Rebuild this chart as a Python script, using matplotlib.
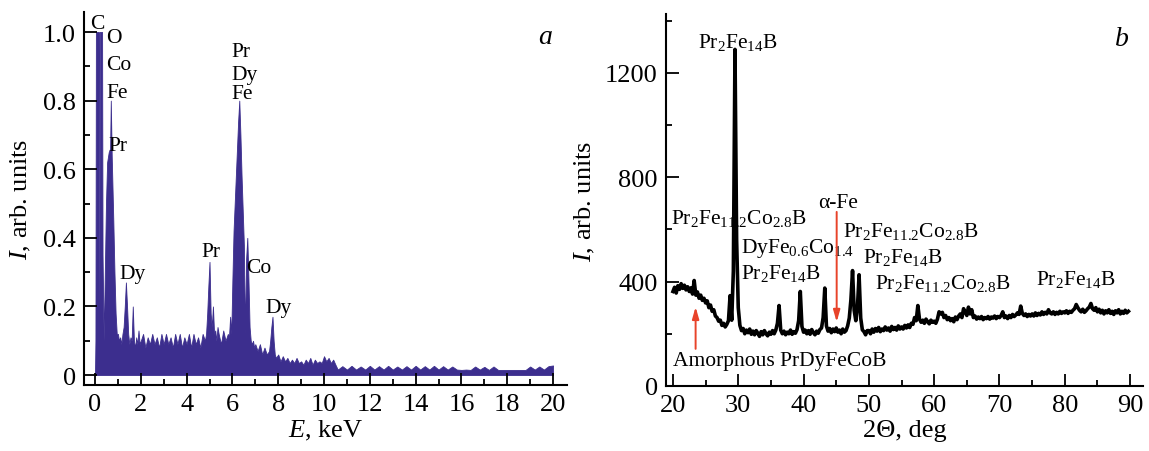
import numpy as np
import matplotlib
matplotlib.use("Agg")
import matplotlib.pyplot as plt
from matplotlib.ticker import MultipleLocator, FixedLocator, FuncFormatter

plt.rcParams['font.family'] = ['Liberation Serif', 'DejaVu Serif']
plt.rcParams['mathtext.fontset'] = 'custom'
plt.rcParams['mathtext.rm'] = 'Liberation Serif'
plt.rcParams['mathtext.it'] = 'Liberation Serif:italic'
plt.rcParams['mathtext.default'] = 'regular'

# --- panel a: EDS spectrum (energy keV, intensity arb. units) ---
eds_e = [0.00, 0.02, 0.04, 0.17, 0.19, 0.21, 0.31, 0.33, 0.38, 0.43,
         0.48, 0.53, 0.60, 0.66, 0.69, 0.73, 0.80, 0.85, 0.90, 0.95,
         1.00, 1.05, 1.10, 1.15, 1.20, 1.25, 1.30, 1.35, 1.40, 1.45,
         1.50, 1.55, 1.60, 1.65, 1.70, 1.75, 1.80, 1.85, 1.90, 1.95, 2.00,
         2.1, 2.2, 2.3, 2.4, 2.5, 2.6, 2.7, 2.8, 2.9, 3.0,
         3.1, 3.2, 3.3, 3.4, 3.5, 3.6, 3.7, 3.8, 3.9, 4.0,
         4.1, 4.2, 4.3, 4.4, 4.5, 4.6, 4.7, 4.8,
         4.85, 4.90, 4.95, 5.00, 5.05, 5.10, 5.15, 5.20, 5.25, 5.30, 5.35, 5.40,
         5.5, 5.6, 5.7, 5.8, 5.85, 5.90, 5.95,
         6.00, 6.05, 6.10, 6.15, 6.20, 6.25, 6.30, 6.35, 6.40, 6.45,
         6.50, 6.55, 6.60, 6.65, 6.70, 6.75, 6.80, 6.85, 6.90, 6.95, 7.00,
         7.1, 7.2, 7.3, 7.4, 7.5, 7.6, 7.65, 7.70, 7.75, 7.80, 7.85, 7.9, 8.0,
         8.1, 8.2, 8.3, 8.4, 8.5, 8.6, 8.7, 8.8, 8.9, 9.0,
         9.1, 9.2, 9.3, 9.4, 9.5, 9.6, 9.7, 9.8, 9.9, 10.0,
         10.1, 10.2, 10.3, 10.4, 10.5,
         10.6, 10.8, 11.0, 11.2, 11.4, 11.6, 11.8, 12.0, 12.2, 12.4,
         12.6, 12.8, 13.0, 13.2, 13.4, 13.6, 13.8, 14.0, 14.2, 14.4,
         14.6, 14.8, 15.0, 15.2, 15.4, 15.6, 15.8, 16.0, 16.2, 16.4,
         16.6, 16.8, 17.0, 17.2, 17.4, 17.6, 17.8, 18.0, 18.2, 18.4,
         18.6, 18.8, 19.0, 19.2, 19.4, 19.6, 19.8, 20.0]
eds_i = [0.00, 0.10, 1.00, 1.00, 0.20, 1.00, 1.00, 0.35, 0.10, 0.30,
         0.50, 0.62, 0.65, 0.66, 0.80, 0.64, 0.45, 0.30, 0.18, 0.12,
         0.12, 0.10, 0.11, 0.09, 0.12, 0.14, 0.20, 0.27, 0.20, 0.12,
         0.09, 0.11, 0.10, 0.20, 0.10, 0.08, 0.11, 0.09, 0.13, 0.09, 0.10,
         0.12, 0.08, 0.11, 0.09, 0.12, 0.09, 0.11, 0.08, 0.12, 0.09,
         0.12, 0.09, 0.11, 0.08, 0.12, 0.09, 0.12, 0.08, 0.11, 0.09,
         0.12, 0.08, 0.12, 0.09, 0.11, 0.08, 0.12, 0.10,
         0.12, 0.18, 0.26, 0.33, 0.18, 0.14, 0.20, 0.12, 0.13, 0.10, 0.14, 0.12,
         0.09, 0.13, 0.10, 0.12, 0.11, 0.17, 0.12,
         0.28, 0.42, 0.50, 0.58, 0.66, 0.74, 0.80, 0.70, 0.58, 0.48,
         0.38, 0.12, 0.34, 0.40, 0.28, 0.14, 0.10, 0.09, 0.10, 0.08, 0.09,
         0.07, 0.09, 0.06, 0.08, 0.06, 0.07, 0.10, 0.14, 0.17, 0.10, 0.06, 0.05, 0.06,
         0.04, 0.055, 0.04, 0.05, 0.035, 0.045, 0.035, 0.05, 0.035, 0.04,
         0.03, 0.045, 0.035, 0.05, 0.03, 0.045, 0.035, 0.04, 0.035, 0.055,
         0.04, 0.05, 0.035, 0.045, 0.03,
         0.016, 0.026, 0.016, 0.027, 0.016, 0.025, 0.016, 0.027, 0.016, 0.026,
         0.016, 0.027, 0.016, 0.025, 0.016, 0.026, 0.016, 0.027, 0.016, 0.026,
         0.016, 0.027, 0.016, 0.026, 0.016, 0.025, 0.016, 0.015, 0.016, 0.015,
         0.025, 0.016, 0.024, 0.015, 0.025, 0.015, 0.015, 0.015, 0.015, 0.015,
         0.015, 0.015, 0.025, 0.016, 0.025, 0.016, 0.026, 0.028]

# --- panel b: XRD pattern, 2theta from 20.00 to 89.75 step 0.25 ---
xrd_start, xrd_step = 20.0, 0.25
xrd_counts = [
    362, 378, 356, 384, 370, 392, 374, 386, 368, 380, 362, 376, 352, 404, 348, 360, 336, 348, 328, 336,
    318, 326, 300, 310, 286, 292, 268, 262, 248, 252, 232, 240, 226, 236, 250, 346, 252, 440, 1290, 560,
    300, 232, 212, 220, 200, 214, 204, 218, 198, 210, 196, 212, 202, 190, 208, 196, 212, 200, 192, 206,
    198, 212, 200, 214, 240, 308, 214, 200, 210, 196, 206, 200, 214, 198, 208, 202, 216, 250, 362, 228,
    206, 214, 200, 212, 198, 216, 204, 196, 210, 202, 216, 222, 262, 375, 230, 210, 220, 204, 218, 208,
    222, 206, 214, 200, 218, 206, 212, 230, 260, 330, 442, 290, 250, 300, 426, 260, 215, 208, 196, 212,
    212, 200, 218, 206, 220, 210, 224, 208, 218, 212, 226, 214, 222, 210, 228, 216, 224, 214, 230, 218,
    226, 218, 232, 222, 234, 224, 240, 236, 262, 250, 308, 256, 244, 252, 240, 256, 246, 238, 252, 244,
    248, 240, 256, 284, 276, 282, 262, 270, 254, 262, 250, 258, 246, 264, 254, 268, 276, 262, 296, 284,
    270, 302, 276, 292, 262, 268, 256, 264, 258, 266, 254, 262, 258, 266, 256, 264, 260, 268, 258, 266,
    262, 270, 284, 262, 268, 258, 270, 262, 274, 266, 272, 280, 274, 306, 278, 270, 276, 266, 274, 268,
    276, 268, 280, 270, 278, 272, 284, 274, 282, 276, 292, 280, 276, 284, 274, 282, 276, 286, 278, 284,
    280, 288, 278, 286, 282, 290, 296, 312, 300, 290, 284, 294, 282, 288, 296, 302, 316, 296, 290, 300,
    284, 294, 280, 290, 276, 288, 280, 292, 278, 286, 274, 288, 280, 292, 276, 286, 278, 290, 280, 286,
]
xrd_2theta = xrd_start + xrd_step * np.arange(len(xrd_counts))

fill_color = '#3c2e8e'
arrow_color = '#e8432a'
fs_tick = 19
fs_lab = 15.5

fig = plt.figure(figsize=(11.49, 4.52), dpi=100)
ax1 = fig.add_axes([0.0731, 0.146, 0.4204, 0.825])
ax2 = fig.add_axes([0.5796, 0.144, 0.4152, 0.823])

for ax in (ax1, ax2):
    for s in ('top', 'right'):
        ax.spines[s].set_visible(False)
    for s in ('left', 'bottom'):
        ax.spines[s].set_linewidth(1.5)
    ax.tick_params(which='both', direction='in', width=1.3, labelsize=fs_tick)
    ax.tick_params(which='major', length=9)
    ax.tick_params(which='minor', length=4.5)
    ax.tick_params(axis='x', which='major', pad=6)
    ax.tick_params(axis='y', which='major', pad=6)

# panel a
ax1.fill_between(eds_e, eds_i, 0, color=fill_color, lw=0.6, edgecolor=fill_color)
ax1.set_xlim(-0.48, 20.61)
ax1.set_ylim(-0.029, 1.058)
ax1.xaxis.set_major_locator(MultipleLocator(2))
ax1.xaxis.set_minor_locator(MultipleLocator(1))
ax1.yaxis.set_major_locator(FixedLocator([0, 0.2, 0.4, 0.6, 0.8, 1.0]))
ax1.yaxis.set_minor_locator(FixedLocator([0.1, 0.3, 0.5, 0.7, 0.9]))
ax1.yaxis.set_major_formatter(FuncFormatter(lambda v, p: '0' if abs(v) < 1e-9 else f'{v:.1f}'))
ax1.set_xlabel(r'$\mathit{E}$, keV', fontsize=fs_tick, labelpad=2)
ax1.set_ylabel(r'$\mathit{I}$, arb. units', fontsize=fs_tick, labelpad=7)
ax1.text(0.955, 0.935, 'a', transform=ax1.transAxes, fontsize=20, style='italic',
         ha='center', va='center')

eds_labels = [('C', -0.22, 1.013), ('O', 0.48, 0.97), ('Co', 0.48, 0.892),
              ('Fe', 0.48, 0.811), ('Pr', 0.58, 0.657), ('Dy', 1.06, 0.284),
              ('Pr', 4.66, 0.346), ('Pr', 5.94, 0.929), ('Dy', 5.94, 0.863),
              ('Fe', 5.94, 0.807), ('Co', 6.62, 0.301), ('Dy', 7.45, 0.185)]
for t, x, y in eds_labels:
    ax1.text(x, y, t, fontsize=fs_lab, ha='left', va='baseline')

# panel b
ax2.plot(xrd_2theta, xrd_counts, color='black', lw=2.6)
ax2.set_xlim(18.93, 91.98)
ax2.set_ylim(0, 1426)
ax2.xaxis.set_major_locator(MultipleLocator(10))
ax2.xaxis.set_minor_locator(MultipleLocator(5))
ax2.yaxis.set_major_locator(MultipleLocator(400))
ax2.yaxis.set_minor_locator(MultipleLocator(200))
ax2.set_xlabel('2Θ, deg', fontsize=fs_tick, labelpad=2)
ax2.set_ylabel(r'$\mathit{I}$, arb. units', fontsize=fs_tick, labelpad=6)
ax2.text(0.955, 0.935, 'b', transform=ax2.transAxes, fontsize=20, style='italic',
         ha='center', va='center')

p214 = r'Pr$_2$Fe$_{14}$B'
pco = r'Pr$_2$Fe$_{11.2}$Co$_{2.8}$B'
xrd_labels = [(p214, 23.87, 1299), (pco, 19.65, 625),
              (r'DyFe$_{0.6}$Co$_{1.4}$', 30.41, 512), (p214, 30.41, 413),
              ('α-Fe', 42.25, 685), (pco, 46.08, 574), (p214, 49.05, 474),
              (pco, 50.93, 375), (p214, 75.59, 391),
              ('Amorphous PrDyFeCoB', 20.05, 80)]
for t, x, y in xrd_labels:
    ax2.text(x, y, t, fontsize=fs_lab, ha='left', va='baseline')

arrow_kw = dict(arrowstyle='-|>,head_length=0.7,head_width=0.2', color=arrow_color, lw=1.4,
                shrinkA=0, shrinkB=0)
ax2.annotate('', xy=(45.07, 245), xytext=(45.07, 667), arrowprops=arrow_kw)
ax2.annotate('', xy=(23.47, 303), xytext=(23.47, 142), arrowprops=arrow_kw)

fig.savefig('out.png', dpi=100)
